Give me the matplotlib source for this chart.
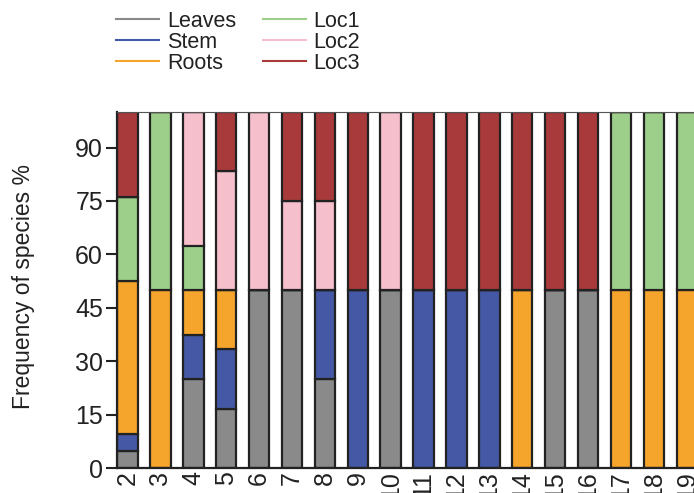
import matplotlib
matplotlib.use("Agg")
import matplotlib.pyplot as plt
from matplotlib.lines import Line2D
import numpy as np

plt.rcParams['font.family'] = ['Liberation Sans', 'DejaVu Sans']

categories = ['2', '3', '4', '5', '6', '7', '8', '9', '10', '11', '12', '13',
              '14', '15', '16', '17', '18', '19']
leaves = [4.8, 0, 25, 16.7, 50, 50, 25, 0, 50, 0, 0, 0, 0, 50, 50, 0, 0, 0]
stem   = [4.8, 0, 12.5, 16.7, 0, 0, 25, 50, 0, 50, 50, 50, 0, 0, 0, 0, 0, 0]
roots  = [42.8, 50, 12.5, 16.6, 0, 0, 0, 0, 0, 0, 0, 0, 50, 0, 0, 50, 50, 50]
loc1   = [23.8, 50, 12.5, 0, 0, 0, 0, 0, 0, 0, 0, 0, 0, 0, 0, 50, 50, 50]
loc2   = [0, 0, 37.5, 33.3, 50, 25, 25, 0, 50, 0, 0, 0, 0, 0, 0, 0, 0, 0]
loc3   = [23.8, 0, 0, 16.7, 0, 25, 25, 50, 0, 50, 50, 50, 50, 50, 50, 0, 0, 0]
y_ticks = [0, 15, 30, 45, 60, 75, 90]

series = [("Leaves", leaves, "#8a8a8a"),
          ("Stem", stem, "#4558a6"),
          ("Roots", roots, "#f5a42c"),
          ("Loc1", loc1, "#9dcf8b"),
          ("Loc2", loc2, "#f6bfcc"),
          ("Loc3", loc3, "#a93a3b")]

fig = plt.figure(figsize=(6.94, 4.93), dpi=100)
ax = fig.add_axes([117/694, 25/493, 1 - 117/694, (468-112)/493])

x = np.arange(len(categories))
width = 0.62
bottom = np.zeros(len(categories))
for name, vals, col in series:
    v = np.array(vals, dtype=float)
    ax.bar(x, v, width, bottom=bottom, color=col, edgecolor="#222222",
           linewidth=1.6, label=name)
    bottom += v

ax.set_xlim(-0.32, 17.22)
ax.set_ylim(0, 100)
ax.set_yticks(y_ticks)
ax.set_xticks(x)
ax.set_xticklabels(categories, rotation=90, fontsize=18)
ax.tick_params(axis='y', labelsize=18, length=8, width=1.5, pad=2,
               color="#222222", labelcolor="#222222")
ax.tick_params(axis='x', length=0, pad=2, labelcolor="#222222")
ax.spines['right'].set_visible(False)
ax.spines['top'].set_linewidth(0.8)
ax.spines['top'].set_color("#555555")
ax.spines['left'].set_linewidth(1.6)
ax.spines['bottom'].set_linewidth(1.6)
ax.spines['left'].set_color("#222222")
ax.spines['bottom'].set_color("#222222")
ax.set_ylabel("Frequency of species %", fontsize=16.5, color="#222222")
ax.yaxis.set_label_coords(-0.142, 0.51)

handles = [Line2D([0], [0], color=c, lw=1.5) for _, _, c in series]
labels = [n for n, _, _ in series]
fig.legend(handles, labels, ncol=2, loc='upper left',
           bbox_to_anchor=(116/694, 1 - 11/493), frameon=False, fontsize=15.5,
           labelspacing=0.0, handlelength=2.0, handletextpad=0.36,
           columnspacing=1.25, borderpad=0, borderaxespad=0,
           labelcolor="#222222")

fig.savefig("out.png", dpi=100)
